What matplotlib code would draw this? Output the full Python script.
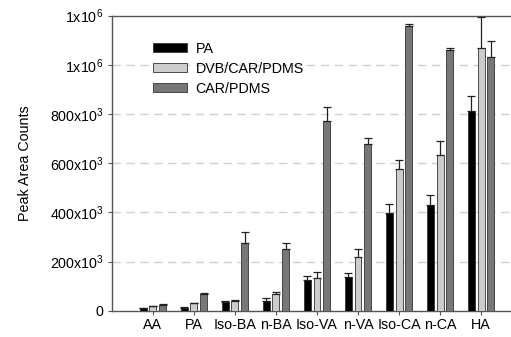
import numpy as np
import matplotlib
matplotlib.use("Agg")
import matplotlib.pyplot as plt

plt.rcParams['font.family'] = ['Liberation Sans', 'DejaVu Sans']
plt.rcParams['mathtext.fontset'] = 'custom'
plt.rcParams['mathtext.rm'] = 'Liberation Sans'

categories = ['AA', 'PA', 'Iso-BA', 'n-BA', 'Iso-VA', 'n-VA', 'Iso-CA', 'n-CA', 'HA']
pa = [11000, 12000, 34000, 41000, 125000, 139000, 398000, 431000, 810000]
pa_err = [2000, 2000, 4000, 11000, 18000, 16000, 36000, 41000, 63000]
dvb = [18000, 31000, 41000, 68000, 133000, 220000, 578000, 631000, 1067000]
dvb_err = [2000, 2000, 2000, 7000, 26000, 29000, 36000, 60000, 127000]
car = [25000, 68000, 275000, 252000, 773000, 676000, 1157000, 1061000, 1031000]
car_err = [3000, 3000, 45000, 24000, 56000, 25000, 8000, 8000, 65000]
yticks = [0, 200000, 400000, 600000, 800000, 1000000, 1200000]
ytick_labels = ['0', r'$\mathregular{200x10^3}$', r'$\mathregular{400x10^3}$',
                r'$\mathregular{600x10^3}$', r'$\mathregular{800x10^3}$',
                r'$\mathregular{1x10^6}$', r'$\mathregular{1x10^6}$']

fig = plt.figure(figsize=(5.11, 3.37), dpi=100)
ax = fig.add_axes([0.219, 0.078, 0.781, 0.876])

x = np.arange(1, len(categories) + 1)
w = 0.17
off = 0.24
series = [(pa, pa_err, 'black', 'PA'),
          (dvb, dvb_err, '#cccccc', 'DVB/CAR/PDMS'),
          (car, car_err, '#777777', 'CAR/PDMS')]
for i, (vals, err, col, lab) in enumerate(series):
    ax.bar(x + (i - 1) * off, vals, w, color=col, edgecolor='#333333', linewidth=0.6,
           label=lab, zorder=3,
           yerr=[np.zeros(len(vals)), err], capsize=3,
           error_kw=dict(ecolor='#222222', elinewidth=0.9, capthick=0.9, zorder=4))

ax.set_xlim(0, 9.73)
ax.set_ylim(0, 1200000)
ax.set_xticks(x)
ax.set_xticklabels(categories, fontsize=10.3)
ax.set_yticks(yticks)
ax.set_yticklabels(ytick_labels, fontsize=10.3)
ax.tick_params(axis='both', direction='out', length=3, width=0.8, color='#555555', pad=3)
ax.tick_params(axis='x', pad=2.5)
for gy in yticks[1:-1]:
    ax.axhline(gy, color='#d0d0d0', linestyle=(0, (6, 4)), linewidth=1, zorder=1)

ax.spines['right'].set_visible(False)
for s in ['left', 'bottom', 'top']:
    ax.spines[s].set_color('#555555')
    ax.spines[s].set_linewidth(1)

ax.set_ylabel('Peak Area Counts', fontsize=10.3, labelpad=13)

ax.legend(loc='upper left', bbox_to_anchor=(0.07, 0.955), frameon=False, fontsize=10.3,
          handlelength=2.4, handleheight=0.6, labelspacing=0.42, handletextpad=0.6)

fig.savefig('out.png', dpi=100)
